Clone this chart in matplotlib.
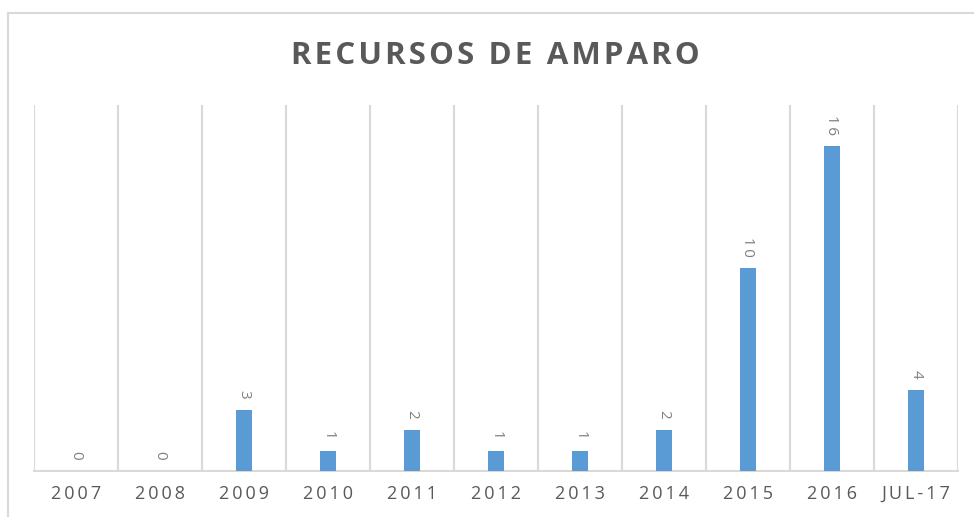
import matplotlib
matplotlib.use("Agg")
import matplotlib.pyplot as plt
from matplotlib.lines import Line2D

categories = ["2007", "2008", "2009", "2010", "2011", "2012", "2013", "2014", "2015", "2016", "JUL-17"]
values = [0, 0, 3, 1, 2, 1, 1, 2, 10, 16, 4]
title = "RECURSOS DE AMPARO"

def spaced(s, sep="\u2009"):
    return sep.join(list(s))

plt.rcParams['font.family'] = ['Open Sans', 'DejaVu Sans']

W, H = 974, 517
fig = plt.figure(figsize=(W / 100, H / 100), dpi=100)
ax = fig.add_axes([34 / W, 1 - 471 / H, (958 - 34) / W, (471 - 105) / H])

x = list(range(len(categories)))
ax.bar(x, values, width=0.18, color="#5b9bd5", zorder=3)
ax.set_xlim(-0.5, len(categories) - 0.5)
ax.set_ylim(0, 18)

for b in [i - 0.5 for i in range(len(categories) + 1)]:
    ax.axvline(b, color="#d9d9d9", lw=1.5, zorder=1)

for s in ["top", "right", "left"]:
    ax.spines[s].set_visible(False)
ax.spines["bottom"].set_color("#d9d9d9")
ax.spines["bottom"].set_linewidth(1.5)
ax.set_yticks([])
ax.set_xticks(x)
ax.set_xticklabels([spaced(c) for c in categories], fontsize=13, color="#595959")
ax.tick_params(axis="x", length=0, pad=10)

for xi, v in zip(x, values):
    ax.annotate(spaced(str(v)), (xi, v), xytext=(0, 8), textcoords="offset points",
                rotation=270, ha="center", va="bottom", fontsize=11, color="#808080")

fig.text(495 / W, 1 - 56 / H, spaced(title, "\u200a"), ha="center", va="center",
         fontsize=22.5, fontweight="bold", color="#595959")

# outer chart frame (top and left edges visible)
fig.add_artist(Line2D([8 / W, 8 / W], [0, 1 - 13 / H], transform=fig.transFigure, color="#d9d9d9", lw=1.5))
fig.add_artist(Line2D([8 / W, 1], [1 - 13 / H, 1 - 13 / H], transform=fig.transFigure, color="#d9d9d9", lw=1.5))

fig.savefig("out.png", dpi=100, facecolor="white")
